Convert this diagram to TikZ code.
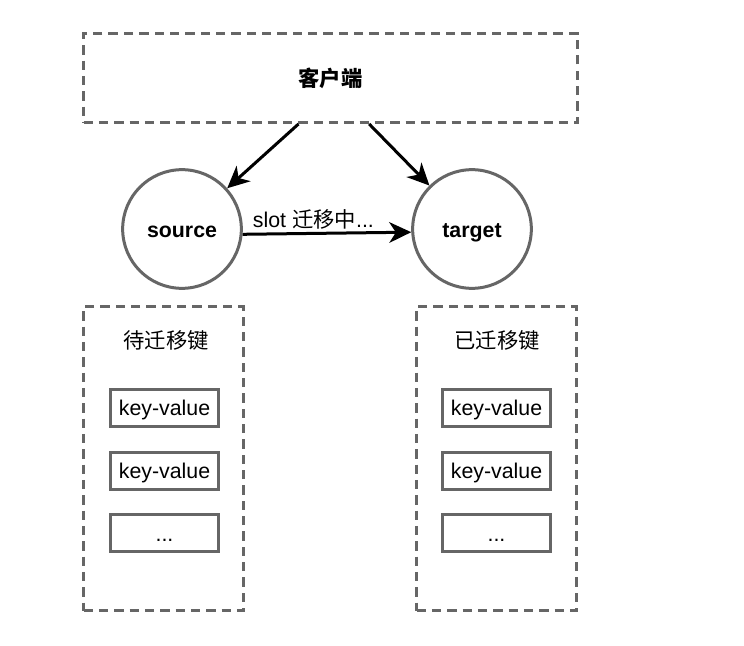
\documentclass[tikz,border=0pt]{standalone}
\usepackage{fontspec}
\setmainfont{Liberation Sans}
\newfontfamily\cjk{Noto Sans CJK SC}
\usetikzlibrary{arrows.meta,positioning}

\definecolor{frame}{HTML}{666666}

\tikzstyle{group} = [draw=frame, line width=2.25pt, dash pattern=on 7pt off 4.5pt,
    rectangle, inner sep=0pt]
\tikzstyle{server} = [draw=frame, line width=2.25pt, circle, minimum size=89pt,
    inner sep=0pt, text height=14pt, text depth=1pt,
    font=\fontsize{16}{19}\selectfont\bfseries]
\tikzstyle{kv} = [draw=frame, line width=2.25pt, rectangle, minimum width=81pt,
    minimum height=27.75pt, inner sep=0pt, text height=13.5pt, text depth=2pt]
\tikzstyle{title} = [inner sep=0pt]
\tikzstyle{arr} = [line width=2.25pt, -{Stealth[length=16.5pt,width=15.5pt,inset=5pt]}]

\begin{document}
\begin{tikzpicture}[x=0.75pt, y=-0.75pt, node distance=47pt,
    every node/.style={font=\fontsize{16}{19}\selectfont}]
    \useasboundingbox (0,0) rectangle (744,646);

    \node [group, minimum width=370.5pt, minimum height=66.75pt] (client) at (330.5,78)
        {\cjk\bfseries 客户端};
    \node [server] (source) at (182,229) {source};
    \node [server] (target) at (472,229) {target};

    % left: keys still to move
    \node [group, minimum width=120pt, minimum height=228pt] (todo) at (163.5,458.5) {};
    \node [kv] (todo1) at (164.5,408) {key-value};
    \node [kv, below of=todo1] (todo2) {key-value};
    \node [kv, below of=todo2] (todo3) {...};
    \node [title] (todotitle) at (166,340) {\cjk 待迁移键};

    % right: keys already moved
    \node [group, minimum width=120pt, minimum height=228pt] (done) at (496.5,458.5) {};
    \node [kv] (done1) at (496.5,408) {key-value};
    \node [kv, below of=done1] (done2) {key-value};
    \node [kv, below of=done2] (done3) {...};
    \node [title] (donetitle) at (497,340) {\cjk 已迁移键};

    \draw [arr] ([xshift=-24pt]client.south) -- (source);
    \draw [arr] ([xshift=29pt]client.south) -- (target);
    \draw [arr] (source.-5) -- node [pos=0.42, above, inner sep=2pt] {slot {\cjk 迁移中}...} (target.183);
\end{tikzpicture}
\end{document}
